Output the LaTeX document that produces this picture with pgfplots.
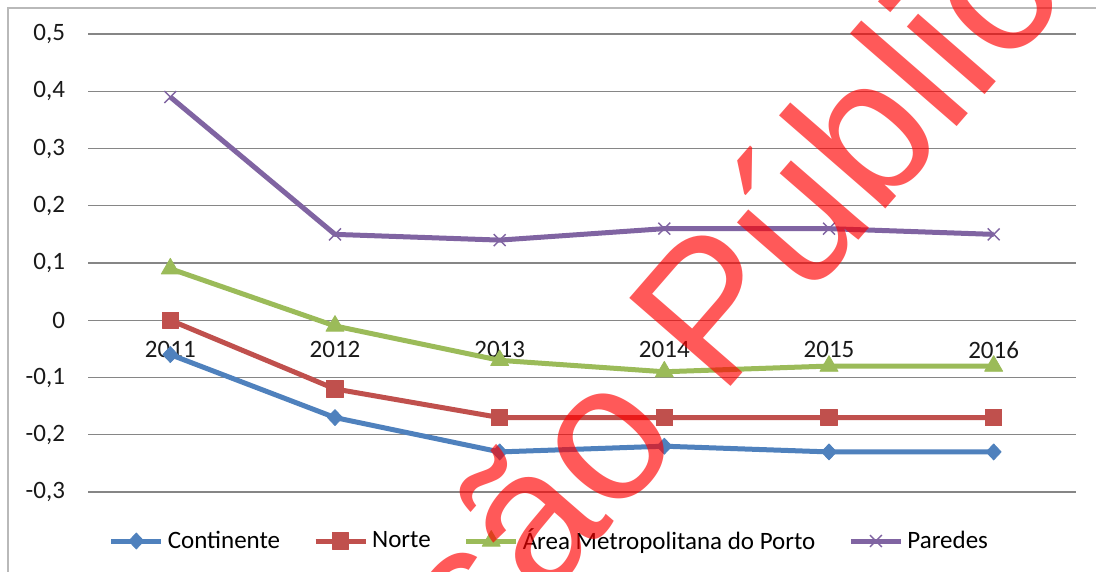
\documentclass[border=0pt]{standalone}
\usepackage{pgfplots}
\pgfplotsset{compat=1.18}
\usepackage{fontspec}
\setmainfont{Carlito}
\newfontfamily\wmfont{Liberation Sans}
\definecolor{cBlue}{HTML}{4F81BD}
\definecolor{cRed}{HTML}{C0504D}
\definecolor{cGreen}{HTML}{9BBB59}
\definecolor{cPurple}{HTML}{8064A2}
\definecolor{cGrid}{RGB}{134,134,134}
\definecolor{cFrame}{RGB}{185,185,185}
\begin{document}
\begin{tikzpicture}
\useasboundingbox (0,0) rectangle (548pt,286pt);
\clip (0,0) rectangle (548pt,286pt);
\fill[white] (0,0) rectangle (548pt,286pt);
\draw[cFrame, line width=0.7pt] (4pt,-10pt) rectangle (570pt,282pt);
\begin{axis}[
  at={(44pt,40pt)}, anchor=south west,
  scale only axis, width=494pt, height=229pt,
  xmin=-0.5, xmax=5.5, ymin=-0.3, ymax=0.5,
  axis x line=middle, axis y line=left,
  axis line style={draw=none},
  xtick={0,1,2,3,4,5}, xticklabels={2011,2012,2013,2014,2015,2016},
  ytick={-0.3,-0.2,-0.1,0,0.1,0.2,0.3,0.4,0.5},
  major tick length=0pt,
  ymajorgrids, grid style={cGrid, line width=0.6pt},
  /pgf/number format/assume math mode=true,
  /pgf/number format/use comma,
  /pgf/number format/fixed,
  /pgf/number format/precision=1,
  tick label style={font=\fontsize{12.5}{15}\selectfont, text=black!90},
  yticklabel style={xshift=-8pt},
  xticklabel style={yshift=-7pt},
  legend columns=4,
  legend style={at={(0.468,-0.107)}, anchor=center, draw=none, fill=none,
    font=\fontsize{12.5}{15}\selectfont,
    /tikz/every even column/.append style={column sep=14.5pt}},
  legend image code/.code={\draw[mark repeat=2,mark phase=2] plot coordinates {(0pt,0pt) (12.5pt,0pt) (25pt,0pt)};},
]
\addplot[cBlue, line width=2.5pt, line join=round, mark=diamond*, mark size=4pt, mark options={solid, line width=0.4pt, xscale=1.25}]
  coordinates {(0,-0.06) (1,-0.17) (2,-0.23) (3,-0.22) (4,-0.23) (5,-0.23)};
\addlegendentry{Continente}
\addplot[cRed, line width=2.5pt, line join=round, mark=square*, mark size=4.1pt, mark options={solid, line width=0.4pt}]
  coordinates {(0,0) (1,-0.12) (2,-0.17) (3,-0.17) (4,-0.17) (5,-0.17)};
\addlegendentry{Norte}
\addplot[cGreen, line width=2.5pt, line join=round, mark=triangle*, mark size=5.2pt, mark options={solid, line width=0.4pt}]
  coordinates {(0,0.09) (1,-0.01) (2,-0.07) (3,-0.09) (4,-0.08) (5,-0.08)};
\addlegendentry{Área Metropolitana do Porto}
\addplot[cPurple, line width=2.5pt, line join=round, mark=x, mark size=4.2pt, mark options={solid, line width=0.7pt}]
  coordinates {(0,0.39) (1,0.15) (2,0.14) (3,0.16) (4,0.16) (5,0.15)};
\addlegendentry{Paredes}
\end{axis}
\node[font=\wmfont\fontsize{97.5}{100}\selectfont, text=red, text opacity=0.65,
  rotate=49, anchor=base, inner sep=0pt] at (309pt,27.5pt) {Discussão Pública};
\end{tikzpicture}
\end{document}
